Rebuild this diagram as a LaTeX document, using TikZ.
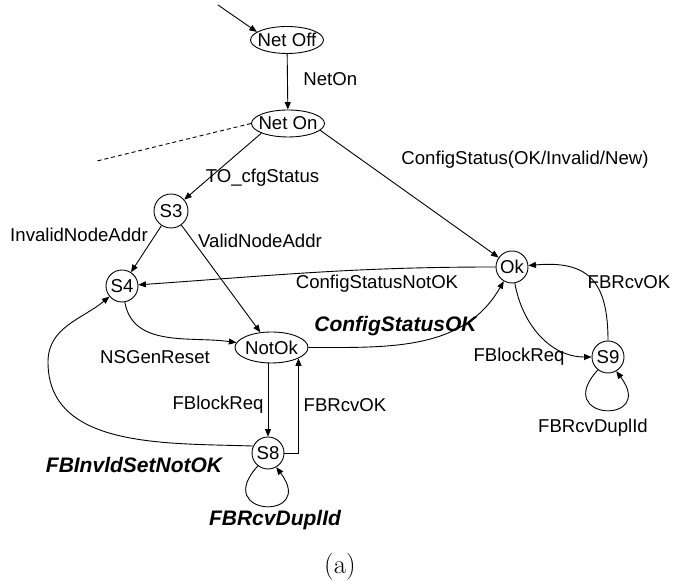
\documentclass[tikz,border=0pt]{standalone}
\usepackage{fontspec}
\newfontfamily\diagfont{Liberation Sans}
\usetikzlibrary{arrows.meta,shapes.geometric,calc}

\begin{document}
\begin{tikzpicture}[x=1pt,y=1pt,line width=0.9pt,
  arr/.style={-{Triangle[length=7.5pt,width=6pt]}},
  txt/.style={font=\diagfont\fontsize{18.6}{20}\selectfont},
  state/.style={circle,draw,minimum size=32pt,inner sep=0pt,txt},
  oval/.style={ellipse,draw,minimum width=73pt,minimum height=27pt,inner sep=0pt},
  lab/.style={inner sep=0pt,txt},
  blab/.style={inner sep=0pt,font=\diagfont\bfseries\itshape\fontsize{21}{24}\selectfont},
]
\useasboundingbox (0,0) rectangle (673,588);

% states
\node[oval,label={[lab]center:Net Off}] (netoff) at (287,548) {};
\node[oval,label={[lab]center:Net On}] (neton) at (288,464.5) {};
\node[state,minimum size=34pt] (s3) at (171,377) {S3};
\node[state] (s4) at (122,302) {S4};
\node[oval,minimum width=73pt,minimum height=31pt,label={[lab]center:NotOk}] (notok) at (271.5,240.5) {};
\node[state] (ok) at (512,321) {Ok};
\node[state] (s8) at (268,135) {S8};
\node[state] (s9) at (608,231) {S9};

% free ends
\coordinate (init) at (218,583);
\coordinate (dashend) at (97,427);
\coordinate (bulge) at (48,226);

% transitions
\draw[arr] (init) -- (netoff.165);
\draw[arr] (netoff) -- (neton);
\draw[dash pattern=on 4pt off 3pt] (neton.west) -- (dashend);
\draw[arr] (neton.200) -- (s3);
\draw[arr] (neton.-12) -- (ok);
\draw[arr] (s3) -- (s4);
\draw[arr] (s3) -- (notok);
\draw[arr] (ok) to[out=180,in=4] (s4);
\draw[arr] (s4) to[out=-80,in=172] (notok);
\draw[arr] (notok) to[out=0,in=240] (ok);
\draw[arr] (notok.south -| s8) -- (s8);
\draw[arr] (s8.east) -| (notok.-22);
\draw[arr] (s8.155) to[out=178,in=-90] (bulge) to[out=90,in=220] (s4);
\draw[arr] (s8.232) .. controls +(-47,-51) and +(41,-54) .. (s8.-60);
\draw[arr] (ok) to[out=-80,in=180] (s9);
\draw[arr] (s9) to[out=90,in=5,looseness=1.4] (ok);
\draw[arr] (s9.232) .. controls +(-47,-51) and +(41,-54) .. (s9.-60);

% labels
\node[lab,anchor=west] (lnet) at (303,509) {NetOn};
\node[lab] (lto) at (262.5,410) {TO\_cfgStatus};
\node[lab] (lcfg) at (525,428) {ConfigStatus(OK/Invalid/New)};
\node[lab] (linv) at (79,353) {InvalidNodeAddr};
\node[lab] (lval) at (260,347) {ValidNodeAddr};
\node[lab] (lnok) at (377,304) {ConfigStatusNotOK};
\node[blab] (lok) at (395.5,262) {ConfigStatusOK};
\node[lab] (lns) at (155,231) {NSGenReset};
\node[lab] (lfb1) at (218,183) {FBlockReq};
\node[lab] (lrc1) at (345,183) {FBRcvOK};
\node[blab] (linvld) at (134,123) {FBInvldSetNotOK};
\node[blab] (ldup1) at (275,68) {FBRcvDuplId};
\node[lab] (lfb2) at (519,231) {FBlockReq};
\node[lab] (lrc2) at (629,306) {FBRcvOK};
\node[lab] (ldup2) at (593,160) {FBRcvDuplId};
\node[inner sep=0pt,font=\fontsize{27}{30}\selectfont] (cap) at (340,21) {(a)};
\end{tikzpicture}
\end{document}
